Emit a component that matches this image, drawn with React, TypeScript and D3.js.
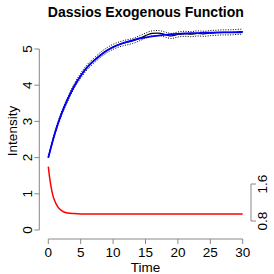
import * as d3 from 'd3';

// time grid for the intensity curves
const times = [0, 1, 2, 3, 4, 5, 6, 7, 8, 9, 10, 11, 12, 13, 14, 15, 16, 17, 18, 19, 20, 21, 22, 23, 24, 25, 26, 27, 28, 29, 30];

// theoretical mean intensity (blue)
const theoretical = [2.0, 2.66, 3.19, 3.62, 3.97, 4.26, 4.49, 4.67, 4.82, 4.95, 5.05, 5.13, 5.19, 5.24, 5.29, 5.32, 5.35, 5.37, 5.39, 5.41, 5.42, 5.43, 5.44, 5.44, 5.45, 5.45, 5.46, 5.46, 5.46, 5.46, 5.47];

// simulated mean intensity (black) and its band (dotted)
const empirical = [2.0, 2.67, 3.2, 3.61, 3.98, 4.26, 4.5, 4.67, 4.83, 4.96, 5.06, 5.13, 5.18, 5.22, 5.29, 5.37, 5.43, 5.44, 5.4, 5.36, 5.4, 5.42, 5.41, 5.43, 5.42, 5.44, 5.45, 5.46, 5.46, 5.47, 5.48];
const bandUpper = [2.0, 2.71, 3.25, 3.67, 4.04, 4.33, 4.57, 4.74, 4.9, 5.03, 5.13, 5.2, 5.25, 5.29, 5.36, 5.44, 5.5, 5.51, 5.47, 5.43, 5.47, 5.49, 5.48, 5.5, 5.49, 5.51, 5.52, 5.53, 5.53, 5.54, 5.55];
const bandLower = [2.0, 2.63, 3.15, 3.55, 3.92, 4.19, 4.43, 4.6, 4.76, 4.89, 4.99, 5.06, 5.11, 5.15, 5.22, 5.3, 5.36, 5.37, 5.33, 5.29, 5.33, 5.35, 5.34, 5.36, 5.35, 5.37, 5.38, 5.39, 5.39, 5.4, 5.41];

// decaying component (red)
const redTimes = [0, 0.25, 0.5, 0.75, 1, 1.5, 2, 2.5, 3, 4, 5, 6, 8, 10, 15, 20, 25, 30];
const redValues = [1.75, 1.39, 1.12, 0.93, 0.8, 0.63, 0.54, 0.49, 0.47, 0.455, 0.445, 0.44, 0.44, 0.44, 0.44, 0.44, 0.44, 0.44];

const xTicks = [0, 5, 10, 15, 20, 25, 30];
const yTicks = [0, 1, 2, 3, 4, 5];
const rightTicks = [0.8, 1.6];

const W = 274;
const H = 274;
const FONT = '"Liberation Sans", Arial, Helvetica, sans-serif';

export default function App() {
  const x = d3.scaleLinear().domain([0, 30]).range([48.3, 242.7]);
  const y = d3.scaleLinear().domain([0, 5]).range([230, 49]);
  const yRight = d3.scaleLinear().domain([0.8, 1.6]).range([221, 184]);

  const axisY = 239;
  const axisX = 39.3;
  const rightX = 251;

  const line = d3.line<number>()
    .x((_, i) => x(times[i]))
    .y(d => y(d))
    .curve(d3.curveMonotoneX);

  const redLine = d3.line<number>()
    .x((_, i) => x(redTimes[i]))
    .y(d => y(d))
    .curve(d3.curveMonotoneX);

  return (
    <svg width={W} height={H} style={{ position: 'absolute', left: 0, top: 0, background: '#fff' }} fontFamily={FONT}>
      {/* title */}
      <text x={145.8} y={16.7} textAnchor="middle" fontSize={14} fontWeight="bold">
        Dassios Exogenous Function
      </text>

      {/* x axis */}
      <line x1={x(0)} x2={x(30)} y1={axisY} y2={axisY} stroke="#888" />
      {xTicks.map(t => (
        <g key={t}>
          <line x1={x(t)} x2={x(t)} y1={axisY} y2={axisY + 5} stroke="#888" />
          <text x={x(t)} y={256.7} textAnchor="middle" fontSize={13.5}>{t}</text>
        </g>
      ))}
      <text x={145.5} y={271.5} textAnchor="middle" fontSize={13.5}>Time</text>

      {/* left y axis */}
      <line x1={axisX} x2={axisX} y1={y(0)} y2={y(5)} stroke="#888" />
      {yTicks.map(t => (
        <g key={t}>
          <line x1={axisX - 5} x2={axisX} y1={y(t)} y2={y(t)} stroke="#888" />
          <text transform={`translate(31.7,${y(t)}) rotate(-90)`} textAnchor="middle" fontSize={13.5}>{t}</text>
        </g>
      ))}
      <text transform="translate(16.7,131) rotate(-90)" textAnchor="middle" fontSize={13.5}>Intensity</text>

      {/* right y axis */}
      <line x1={rightX} x2={rightX} y1={yRight(0.8)} y2={yRight(1.6)} stroke="#888" />
      {rightTicks.map(t => (
        <g key={t}>
          <line x1={rightX} x2={rightX + 5} y1={yRight(t)} y2={yRight(t)} stroke="#888" />
          <text transform={`translate(266.5,${yRight(t)}) rotate(-90)`} textAnchor="middle" fontSize={13.5}>{t.toFixed(1)}</text>
        </g>
      ))}

      {/* bands */}
      <path d={line(bandUpper) ?? ''} fill="none" stroke="#000" strokeWidth={1} strokeDasharray="1,1.5" />
      <path d={line(bandLower) ?? ''} fill="none" stroke="#000" strokeWidth={1} strokeDasharray="1,1.5" />
      <path d={line(empirical) ?? ''} fill="none" stroke="#000" strokeWidth={1.2} />
      <path d={line(theoretical) ?? ''} fill="none" stroke="#0000ff" strokeWidth={1.8} />

      {/* red decaying curve */}
      <path d={redLine(redValues) ?? ''} fill="none" stroke="#ff0000" strokeWidth={1.5} />
    </svg>
  );
}
